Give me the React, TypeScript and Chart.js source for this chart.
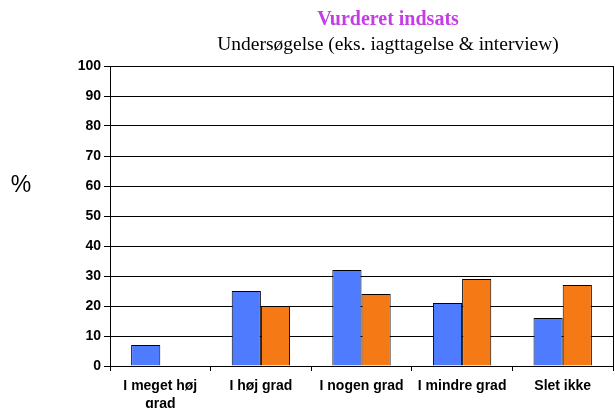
import React, { useEffect, useRef } from "react";
import { Chart, registerables } from "chart.js";

Chart.register(...registerables);

const categories: (string | string[])[] = [["I meget høj", "grad"], "I høj grad", "I nogen grad", "I mindre grad", "Slet ikke"];
const seriesBlue: (number | null)[] = [7, 25, 32, 21, 16];
const seriesOrange: (number | null)[] = [null, 20, 24, 29, 27];
const yTicks: number[] = [0, 10, 20, 30, 40, 50, 60, 70, 80, 90, 100];
const titleText = "Vurderet indsats";
const subtitleText = "Undersøgelse (eks. iagttagelse & interview)";
const yUnit = "%";

const decorPlugin = {
  id: "decor",
  afterDraw(chart: any) {
    const { ctx, chartArea } = chart;
    ctx.save();
    ctx.strokeStyle = "#000";
    ctx.lineWidth = 1;
    ctx.strokeRect(Math.round(chartArea.left) + 0.5, Math.round(chartArea.top) + 0.5,
      Math.round(chartArea.right - chartArea.left), Math.round(chartArea.bottom - chartArea.top));
    ctx.textAlign = "center";
    ctx.textBaseline = "middle";
    ctx.fillStyle = "#c63ce6";
    ctx.font = "bold 20px 'Liberation Serif', 'Times New Roman', serif";
    ctx.fillText(titleText, 388, 20);
    ctx.fillStyle = "#000";
    ctx.font = "19.5px 'Liberation Serif', 'Times New Roman', serif";
    ctx.fillText(subtitleText, 388, 45);
    ctx.font = "23px 'Liberation Sans', Arial, sans-serif";
    ctx.fillText(yUnit, 21, 186);
    ctx.restore();
  },
};

export default function App() {
  const ref = useRef<HTMLCanvasElement>(null);
  useEffect(() => {
    document.body.style.margin = "0";
    const canvas = ref.current!;
    const chart = new Chart(canvas, {
      type: "bar",
      data: {
        labels: categories,
        datasets: [
          {
            data: seriesBlue,
            backgroundColor: "#4f7bff",
            borderColor: "#000",
            borderWidth: 1,
            categoryPercentage: 0.58,
            barPercentage: 1,
          },
          {
            data: seriesOrange,
            backgroundColor: "#f57a16",
            borderColor: "#000",
            borderWidth: 1,
            categoryPercentage: 0.58,
            barPercentage: 1,
          },
        ],
      },
      options: {
        animation: false,
        responsive: false,
        layout: { padding: { top: 66, right: 2, bottom: 0, left: 0 } },
        plugins: { legend: { display: false }, tooltip: { enabled: false }, title: { display: false } },
        scales: {
          x: {
            grid: { display: true, drawOnChartArea: false, drawTicks: true, tickLength: 5, offset: true, color: "#000" },
            border: { display: true, color: "#000" },
            ticks: {
              color: "#000",
              font: { family: "'Liberation Sans', Arial, sans-serif", size: 14, weight: "bold", lineHeight: 1.3 },
              padding: 6,
              maxRotation: 0,
              autoSkip: false,
            },
            afterFit(scale: any) { scale.height = 42; },
          },
          y: {
            min: 0,
            max: 100,
            afterBuildTicks(scale: any) { scale.ticks = yTicks.map((v) => ({ value: v })); },
            grid: { color: "#000", tickLength: 6, drawTicks: true },
            border: { display: true, color: "#000" },
            ticks: {
              color: "#000",
              font: { family: "'Liberation Sans', Arial, sans-serif", size: 14, weight: "bold" },
              padding: 3,
            },
            afterFit(scale: any) { scale.width = 110; },
          },
        },
      },
      plugins: [decorPlugin],
    });
    return () => chart.destroy();
  }, []);
  return <canvas ref={ref} width={615} height={408} style={{ display: "block", width: 615, height: 408 }} />;
}
